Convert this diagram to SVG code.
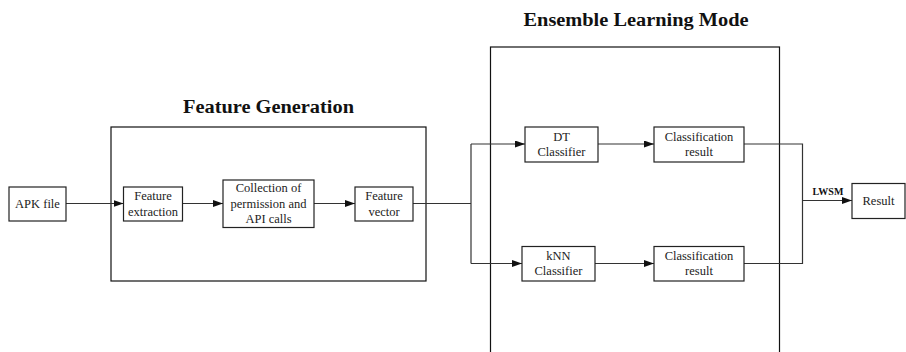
<svg xmlns="http://www.w3.org/2000/svg" width="906" height="352" viewBox="0 0 906 352">
<style>
.box{fill:#fff;stroke:#222;stroke-width:1.2}
.frame{fill:none;stroke:#111;stroke-width:1.2}
.t{font-family:"Liberation Serif","Times New Roman",serif;font-size:12.5px;fill:#222;text-anchor:middle}
.title{font-family:"Liberation Serif","Times New Roman",serif;font-size:18px;font-weight:bold;fill:#111;text-anchor:middle}
.lbl{font-family:"Liberation Serif","Times New Roman",serif;font-size:10px;font-weight:bold;fill:#111;text-anchor:middle}
.c{fill:none;stroke:#333;stroke-width:1.2}
</style>
<defs>
<marker id="ah" markerUnits="userSpaceOnUse" markerWidth="10" markerHeight="7" refX="10" refY="3.5" orient="auto">
<path d="M0,0 L10,3.5 L0,7 z" fill="#111"/>
</marker>
</defs>
<g id="feature-generation">
<rect class="frame" x="111" y="127" width="315" height="154"/>
<text class="title" x="268.5" y="113" textLength="171" lengthAdjust="spacingAndGlyphs">Feature Generation</text>
</g>
<g id="ensemble-learning-mode">
<rect class="frame" x="490.5" y="47" width="289" height="330"/>
<text class="title" x="636" y="26" textLength="225" lengthAdjust="spacingAndGlyphs">Ensemble Learning Mode</text>
</g>
<g id="connectors">
<line class="c" x1="66" y1="203.5" x2="123.5" y2="203.5" marker-end="url(#ah)"/>
<line class="c" x1="183" y1="203.5" x2="223" y2="203.5" marker-end="url(#ah)"/>
<line class="c" x1="314" y1="203.5" x2="355" y2="203.5" marker-end="url(#ah)"/>
<polyline class="c" points="413,203.5 471,203.5"/>
<polyline class="c" points="471,144 471,263.5"/>
<line class="c" x1="471" y1="144" x2="525" y2="144" marker-end="url(#ah)"/>
<line class="c" x1="471" y1="263.5" x2="522" y2="263.5" marker-end="url(#ah)"/>
<line class="c" x1="598" y1="144" x2="654" y2="144" marker-end="url(#ah)"/>
<line class="c" x1="595" y1="263.5" x2="654" y2="263.5" marker-end="url(#ah)"/>
<polyline class="c" points="744,144 802.5,144 802.5,263.5 744,263.5"/>
<line class="c" x1="802.5" y1="200.5" x2="852" y2="200.5" marker-end="url(#ah)"/>
<text class="lbl" x="828" y="195">LWSM</text>
</g>
<g id="apk-file">
<rect class="box" x="9" y="187" width="57" height="34"/>
<text class="t" x="37.5" y="208">APK file</text>
</g>
<g id="feature-extraction">
<rect class="box" x="123.5" y="187" width="59" height="34"/>
<text class="t" x="153" y="200">Feature</text>
<text class="t" x="153" y="216">extraction</text>
</g>
<g id="collection">
<rect class="box" x="223" y="180" width="91" height="47.5"/>
<text class="t" x="268.5" y="192">Collection of</text>
<text class="t" x="268.5" y="207.5">permission and</text>
<text class="t" x="268.5" y="223">API calls</text>
</g>
<g id="feature-vector">
<rect class="box" x="355" y="187" width="58" height="34"/>
<text class="t" x="384" y="200">Feature</text>
<text class="t" x="384" y="216">vector</text>
</g>
<g id="dt-classifier">
<rect class="box" x="525" y="127" width="73" height="35"/>
<text class="t" x="561.5" y="141">DT</text>
<text class="t" x="561.5" y="156">Classifier</text>
</g>
<g id="classification-result-1">
<rect class="box" x="654" y="127" width="90" height="35"/>
<text class="t" x="699" y="141">Classification</text>
<text class="t" x="699" y="156">result</text>
</g>
<g id="knn-classifier">
<rect class="box" x="522" y="246.5" width="73" height="34.5"/>
<text class="t" x="558.5" y="260">kNN</text>
<text class="t" x="558.5" y="275">Classifier</text>
</g>
<g id="classification-result-2">
<rect class="box" x="654" y="246.5" width="90" height="34.5"/>
<text class="t" x="699" y="260">Classification</text>
<text class="t" x="699" y="275">result</text>
</g>
<g id="result">
<rect class="box" x="852" y="183.5" width="53" height="35"/>
<text class="t" x="878.5" y="205">Result</text>
</g>
</svg>
